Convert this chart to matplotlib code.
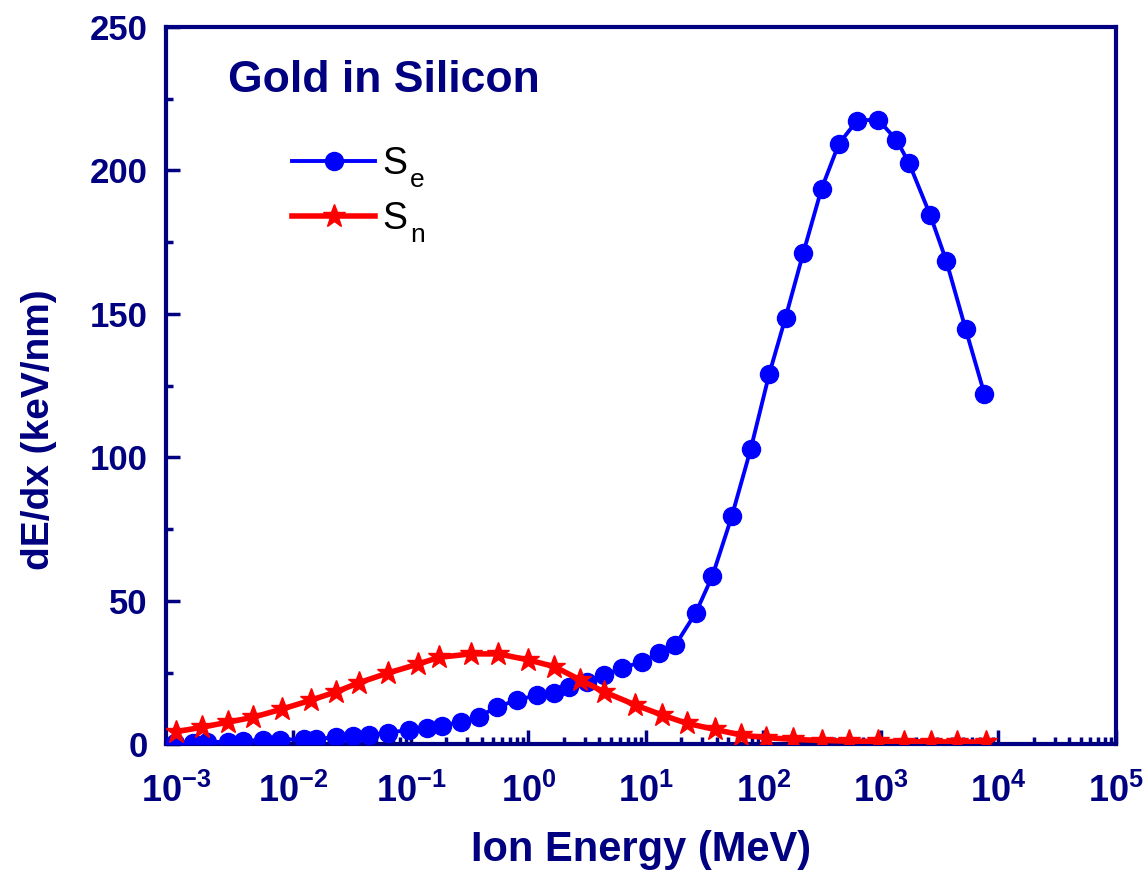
import matplotlib
matplotlib.use('Agg')
import matplotlib.pyplot as plt
from matplotlib.ticker import FixedLocator, LogLocator, MultipleLocator, NullFormatter
from matplotlib.lines import Line2D

plt.rcParams['font.family'] = ['Liberation Sans', 'DejaVu Sans']
plt.rcParams['mathtext.fontset'] = 'custom'
plt.rcParams['mathtext.rm'] = 'Liberation Sans'
plt.rcParams['mathtext.bf'] = 'Liberation Sans:bold'
plt.rcParams['mathtext.it'] = 'Liberation Sans:italic'

NAVY = '#000080'

# electronic stopping Se (keV/nm) vs ion energy (MeV)
se_energy = [0.00098, 0.0014, 0.00182, 0.00277, 0.00372, 0.0055, 0.00762,
             0.0124, 0.0156, 0.0231, 0.0319, 0.0443, 0.0633, 0.0967, 0.138,
             0.184, 0.267, 0.380, 0.543, 0.803, 1.19, 1.65, 2.21, 3.16, 4.38,
             6.26, 9.25, 12.8, 17.8, 26.6, 36.8, 53.7, 77.9, 112, 154, 218,
             312, 438, 627, 945, 1352, 1732, 2627, 3590, 5246, 7604]
se_value = [0.35, 0.56, 0.7, 0.9, 1.15, 1.5, 1.6, 1.75, 1.85, 2.45, 3.0, 3.25,
            4.05, 5.0, 5.6, 6.4, 7.9, 9.6, 13.1, 15.4, 17.2, 18.0, 20.1, 21.8,
            24.2, 26.5, 28.8, 31.7, 34.6, 45.9, 58.7, 79.4, 102.9, 129.1,
            148.7, 171.2, 193.6, 209.3, 217.4, 217.7, 210.7, 202.6, 184.4,
            168.6, 144.8, 122.0]

# nuclear stopping Sn (keV/nm)
sn_energy = [0.00101, 0.00165, 0.00277, 0.00452, 0.00804, 0.01416, 0.0231,
             0.0364, 0.0633, 0.1138, 0.174, 0.323, 0.554, 0.996, 1.65, 2.77,
             4.38, 8.13, 13.7, 22.3, 38.3, 64.9, 106, 179, 316, 536, 945,
             1571, 2663, 4426, 7800]
sn_value = [4.4, 5.9, 7.7, 9.4, 12.3, 15.4, 18.3, 21.5, 24.8, 27.9, 30.3,
            31.5, 31.5, 29.4, 27.1, 22.4, 18.3, 13.7, 10.2, 7.3, 5.2, 3.2,
            2.3, 1.7, 1.3, 1.1, 1.0, 0.9, 0.85, 0.8, 0.75]

x_ticks = [1e-3, 1e-2, 1e-1, 1e0, 1e1, 1e2, 1e3, 1e4, 1e5]
x_ticklabels = [r'$\mathbf{10^{-3}}$', r'$\mathbf{10^{-2}}$', r'$\mathbf{10^{-1}}$',
                r'$\mathbf{10^{0}}$', r'$\mathbf{10^{1}}$', r'$\mathbf{10^{2}}$',
                r'$\mathbf{10^{3}}$', r'$\mathbf{10^{4}}$', r'$\mathbf{10^{5}}$']

fig = plt.figure(figsize=(11.48, 8.71), dpi=100)
ax = fig.add_axes([0.1446, 0.1455, 0.8275, 0.8235])

ax.plot(se_energy, se_value, color='#0000ff', lw=2.8, marker='o', ms=13,
        zorder=3)
ax.plot(sn_energy, sn_value, color='#ff0000', lw=4, marker='*', ms=17,
        zorder=4)

ax.set_xscale('log')
ax.set_xlim(10 ** -3.085, 1e5)
ax.set_ylim(0, 250)

ax.xaxis.set_major_locator(FixedLocator(x_ticks))
ax.set_xticklabels(x_ticklabels)
ax.xaxis.set_minor_locator(LogLocator(base=10, subs=range(2, 10), numticks=20))
ax.xaxis.set_minor_formatter(NullFormatter())
ax.yaxis.set_major_locator(MultipleLocator(50))
ax.yaxis.set_minor_locator(MultipleLocator(25))

for sp in ax.spines.values():
    sp.set_linewidth(3)
    sp.set_color(NAVY)

ax.tick_params(which='both', direction='in', color=NAVY, width=2.5,
               top=False, right=False)
ax.tick_params(which='major', length=10)
ax.tick_params(which='minor', length=5)
ax.tick_params(axis='x', which='major', pad=21, labelsize=26, labelcolor=NAVY)
ax.tick_params(axis='y', which='major', pad=13, labelsize=25, labelcolor=NAVY)
for lab in ax.get_yticklabels():
    lab.set_fontweight('bold')

ax.set_xlabel('Ion Energy (MeV)', fontsize=30, fontweight='bold', color=NAVY,
              labelpad=15)
ax.set_ylabel('dE/dx (keV/nm)', fontsize=28, fontweight='bold', color=NAVY)
ax.yaxis.set_label_coords(-0.115, 0.438)

ax.text(0.065, 0.925, 'Gold in Silicon', transform=ax.transAxes,
        fontsize=32, fontweight='bold', color=NAVY, va='center', ha='left')

handles = [
    Line2D([], [], color='#0000ff', lw=2.8, marker='o', ms=13),
    Line2D([], [], color='#ff0000', lw=4, marker='*', ms=17),
]
leg = ax.legend(handles, ['S', 'S'], loc='upper left',
                bbox_to_anchor=(0.133, 0.834), frameon=False, fontsize=27,
                handlelength=2.2, handletextpad=0.2, labelspacing=0.5,
                borderaxespad=0, borderpad=0)
# subscripts sit well below the baseline of the S
for txt, sub in zip(leg.get_texts(), ['e', 'n']):
    ax.annotate(sub, xy=(1, 0), xycoords=txt, xytext=(2, 1.5),
                textcoords='offset points', fontsize=19, va='center',
                ha='left', color='black', zorder=10)

fig.savefig('out.png', dpi=100)
